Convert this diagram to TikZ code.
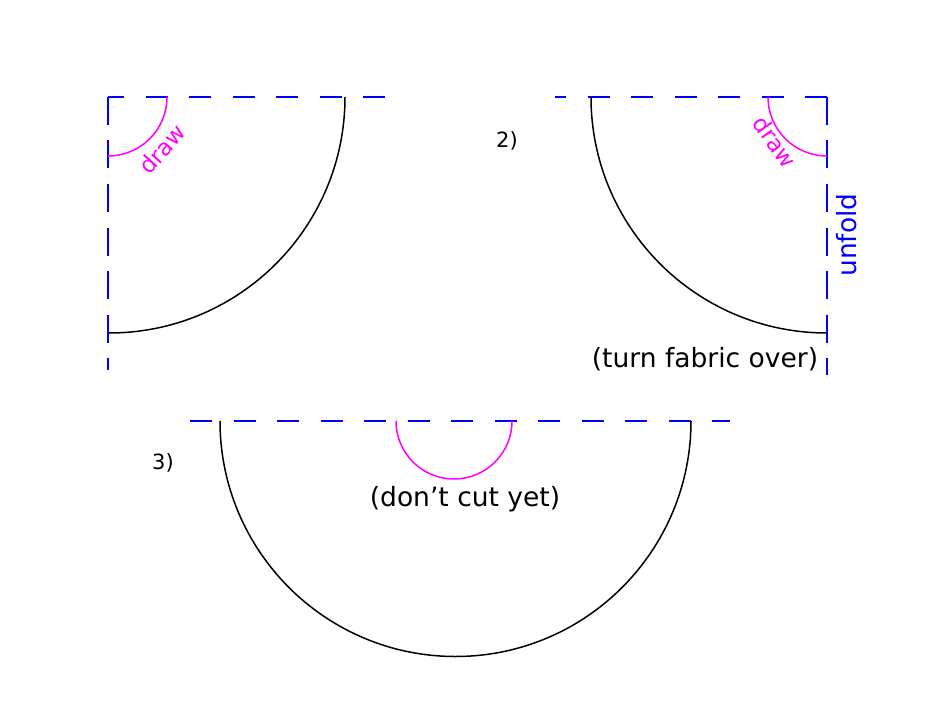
\documentclass[tikz,border=0pt]{standalone}
\usepackage{fontspec}
\setmainfont{DejaVu Sans}
\usepackage{xcolor}
\usepackage{tikz}
\usetikzlibrary{positioning}

\definecolor{foldblue}{RGB}{0,0,255}
\definecolor{chalkpink}{RGB}{255,0,255}

\begin{document}
\begin{tikzpicture}[
    x=1pt, y=-1pt,
    cutline/.style={draw=black, line width=1.5pt},
    drawline/.style={draw=chalkpink, line width=1.5pt},
    foldh/.style={draw=foldblue, line width=2pt, dash pattern=on 22pt off 21.5pt},
    foldv/.style={draw=foldblue, line width=2pt, dash pattern=on 28pt off 15.5pt},
    steplabel/.style={font=\fontsize{21}{25}\selectfont, inner sep=0pt},
    note/.style={font=\fontsize{26.5}{31}\selectfont, inner sep=0pt},
    drawlabel/.style={font=\fontsize{23}{27}\selectfont, text=chalkpink, inner sep=0pt}
]

    % Cadre de la page
    \useasboundingbox (0,0) rectangle (932,706);

    % ── Pli 1 (quart de cercle, en haut \`a gauche) ──
    \draw[foldv] (108,97) -- (108,370);
    \draw[foldh] (385,97) -- (108,97);
    \draw[cutline] (345,97) arc[start angle=0, end angle=90, radius=236];
    \draw[drawline] (167,97) arc[start angle=0, end angle=90, radius=59];
    \node[drawlabel, rotate=48] (draw1) at (162,149) {draw};

    % ── Pli 2 (quart de cercle, en haut \`a droite) ──
    \node[steplabel] (step2) at (507,141) {2)};
    \draw[foldh] (827,97) -- (555,97);
    \draw[foldv] (827,97) -- (827,375);
    \draw[cutline] (591,97) arc[start angle=180, end angle=90, radius=236];
    \draw[drawline] (768,97) arc[start angle=180, end angle=90, radius=59];
    \node[drawlabel, rotate=-55] (draw2) at (775,142) {draw};
    \node[note, text=foldblue, rotate=90] (unfold) at (847,235) {unfold};
    \node[note] (turn) at (705,359) {(turn fabric over)};

    % ── Pli 3 (demi-cercle, en bas) ──
    \node[steplabel] (step3) at (163,463) {3)};
    \draw[foldh] (190,421) -- (730,421);
    \draw[cutline] (220,421) arc[start angle=180, end angle=0, radius=235.5];
    \draw[drawline] (396,421) arc[start angle=180, end angle=0, radius=58];
    \node[note] (nocut) at (465,499) {(don’t cut yet)};

\end{tikzpicture}
\end{document}
